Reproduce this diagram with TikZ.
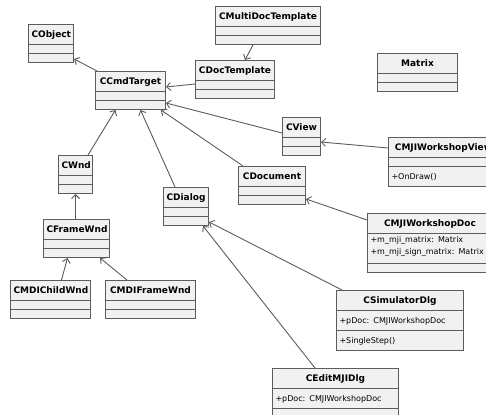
\documentclass[tikz,border=0pt]{standalone}
\usepackage{fontspec}
\setmainfont{DejaVu Sans}
\usepackage{tikz}
\usetikzlibrary{shapes.multipart}
\usetikzlibrary{arrows.meta}
\definecolor{umlline}{HTML}{5C5C5C}
\definecolor{umlfill}{HTML}{F1F1F1}

\begin{document}
\begin{tikzpicture}[x=1pt,y=-1pt]
    \newcommand{\cname}[1]{\centering\fontsize{9}{11}\selectfont\rule[-6.5pt]{0pt}{19pt}\textbf{#1}\par}
    \newcommand{\cmember}[1]{\raggedright\noindent\rule[-7pt]{0pt}{19pt}#1\par}
    \newcommand{\cempty}{\noindent\rule{0pt}{8pt}}
    \tikzstyle{dedge} = [line width=0.9pt,-{Straight Barb[length=4pt,width=8pt]},draw=umlline]
    \tikzstyle{cls}=[
      rectangle split,
      rectangle split parts=3,
      draw=umlline,
      fill=umlfill,
      line width=1pt,
      anchor=north west,
      inner xsep=3pt,
      inner ysep=0pt,
      font=\fontsize{8}{12}\selectfont,
    ]

    \useasboundingbox[fill=white] (0,0) rectangle (486,414);

    \node[cls,text width=39pt] (nObject) at (28,24) {\cname{CObject}\nodepart{second}\cempty\nodepart{third}\cempty};
    \node[cls,text width=64pt] (nCmdTarget) at (95,71) {\cname{CCmdTarget}\nodepart{second}\cempty\nodepart{third}\cempty};
    \node[cls,text width=99pt] (nMultiDocTemplate) at (215,6) {\cname{CMultiDocTemplate}\nodepart{second}\cempty\nodepart{third}\cempty};
    \node[cls,text width=73pt] (nDocTemplate) at (195,60) {\cname{CDocTemplate}\nodepart{second}\cempty\nodepart{third}\cempty};
    \node[cls,text width=74pt] (nMatrix) at (377,53) {\cname{Matrix}\nodepart{second}\cempty\nodepart{third}\cempty};
    \node[cls,text width=32pt] (nView) at (282,117) {\cname{CView}\nodepart{second}\cempty\nodepart{third}\cempty};
    \node[cls,text width=104pt] (nWorkshopView) at (388,137) {\cname{CMJIWorkshopView}\nodepart{second}\cempty\nodepart{third}\cmember{+OnDraw()}};
    \node[cls,text width=61pt] (nDocument) at (238,166) {\cname{CDocument}\nodepart{second}\cempty\nodepart{third}\cempty};
    \node[cls,text width=119pt] (nWorkshopDoc) at (367,213) {\cname{CMJIWorkshopDoc}\nodepart{second}\raggedright\noindent\rule[-2pt]{0pt}{10pt}+m\_mji\_matrix: Matrix\\\rule[-9pt]{0pt}{7pt}+m\_mji\_sign\_matrix: Matrix\par\nodepart{third}\cempty};
    \node[cls,text width=28pt] (nWnd) at (58,155) {\cname{CWnd}\nodepart{second}\cempty\nodepart{third}\cempty};
    \node[cls,text width=39pt] (nDialog) at (163,187) {\cname{CDialog}\nodepart{second}\cempty\nodepart{third}\cempty};
    \node[cls,text width=60pt] (nFrameWnd) at (43,219) {\cname{CFrameWnd}\nodepart{second}\cempty\nodepart{third}\cempty};
    \node[cls,text width=74pt] (nMDIChildWnd) at (10,280) {\cname{CMDIChildWnd}\nodepart{second}\cempty\nodepart{third}\cempty};
    \node[cls,text width=84pt] (nMDIFrameWnd) at (105,280) {\cname{CMDIFrameWnd}\nodepart{second}\cempty\nodepart{third}\cempty};
    \node[cls,text width=121pt] (nSimulatorDlg) at (336,290) {\cname{CSimulatorDlg}\nodepart{second}\cmember{+pDoc: CMJIWorkshopDoc}\nodepart{third}\cmember{+SingleStep()}};
    \node[cls,text width=120pt] (nEditMJIDlg) at (272,368) {\cname{CEditMJIDlg}\nodepart{second}\cmember{+pDoc: CMJIWorkshopDoc}\nodepart{third}\cempty};

    \draw[dedge] ([xshift=2pt]nCmdTarget.north west)--([yshift=4pt]nObject.south east);
    \draw[dedge] ([xshift=-15pt]nMultiDocTemplate.south)--([xshift=10pt]nDocTemplate.north);
    \draw[dedge] ([yshift=-4.5pt]nDocTemplate.west)--([yshift=3.5pt]nCmdTarget.east);
    \draw[dedge] ([yshift=3.5pt]nView.west)--([yshift=7pt]nCmdTarget.south east);
    \draw[dedge] ([xshift=5pt]nDocument.north west)--([xshift=-5pt]nCmdTarget.south east);
    \draw[dedge] ([xshift=12pt]nDialog.north west)--([xshift=10pt]nCmdTarget.south);
    \draw[dedge] ([xshift=-5pt]nWnd.north east)--([xshift=-15pt]nCmdTarget.south);
    \draw[dedge] (nWnd.south |- nFrameWnd.north)--(nWnd.south);
    \draw[dedge] ([xshift=11pt]nMDIChildWnd.north)--([xshift=-9pt]nFrameWnd.south);
    \draw[dedge] ([xshift=22pt]nMDIFrameWnd.north west)--([xshift=-10pt]nFrameWnd.south east);
    \draw[dedge] ([yshift=-11pt]nWorkshopView.north west)--([yshift=-5.5pt]nView.east);
    \draw[dedge] ([yshift=-7pt]nWorkshopDoc.north west)--([yshift=6pt]nDocument.south east);
    \draw[dedge] ([xshift=6pt]nSimulatorDlg.north west)--([yshift=4pt]nDialog.south east);
    \draw[dedge] ([xshift=43pt]nEditMJIDlg.north west)--([xshift=-6pt]nDialog.south east);
  \end{tikzpicture}
\end{document}
